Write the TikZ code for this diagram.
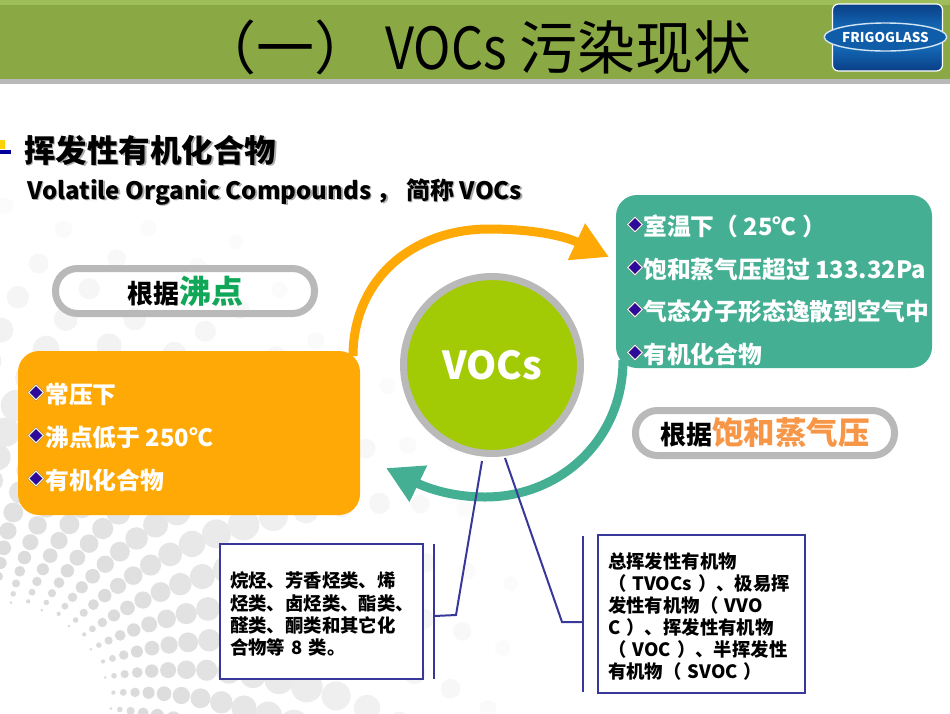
\documentclass[tikz,border=0pt]{standalone}
\usepackage{fontspec}
\setmainfont{Noto Sans CJK SC}
\usetikzlibrary{arrows.meta,shapes.geometric}
\definecolor{bandgreen}{HTML}{8AA945}
\definecolor{bandlight}{HTML}{9DBE5A}
\definecolor{ringgray}{HTML}{B9B9B9}
\definecolor{boxorange}{HTML}{FFA907}
\definecolor{boxteal}{HTML}{45AF94}
\definecolor{limegreen}{HTML}{A3CB05}
\definecolor{linknavy}{HTML}{38389A}
\definecolor{logoblue}{HTML}{0F5CA8}
\definecolor{logodark}{HTML}{0A3F86}
\definecolor{logolight}{HTML}{1878C8}
\definecolor{markgreen}{HTML}{10A858}
\definecolor{markorange}{HTML}{F79646}
\definecolor{markviolet}{HTML}{2E0A9C}
\newcommand{\shadowtext}[1]{\rlap{\kern1.5pt\raisebox{-1.5pt}{\textcolor{black!32}{#1}}}#1}
\begin{document}
\begin{tikzpicture}[
  x=1pt, y=-1pt,
  infobox/.style={rectangle, rounded corners=21pt, draw=none, minimum width=#1, inner sep=0pt},
  pillbox/.style={rectangle, rounded corners=22pt, draw=ringgray, line width=7pt,
                  minimum width=259pt, minimum height=45pt, inner sep=0pt},
  notebox/.style={rectangle, draw=linknavy, line width=2.8pt, fill=white, align=left,
                  font=\fontsize{18.4}{22.1}\selectfont\bfseries, inner sep=0pt},
  itemtext/.style={anchor=base west, inner sep=0pt, text=white,
                   font=\fontsize{23.8}{28}\selectfont\bfseries},
  itemmark/.style={diamond, draw=black!50, double=white, double distance=0.7pt, fill=markviolet,
                   line width=0.4pt, minimum width=15pt, minimum height=15pt, inner sep=0pt},
  swing/.style={line width=9pt, -{Triangle[length=36pt,width=38pt]}},
  link/.style={draw=linknavy, line width=2pt}
]
\useasboundingbox (0,0) rectangle (950,713);

% dotted backdrop
\begin{scope}
\clip (0,0) rectangle (950,713);
\foreach \rowidx in {-4,...,11} {
  \foreach \stepk in {0,...,17} {
    \pgfmathsetmacro{\kval}{\stepk+0.5*mod(\rowidx+4,2)}
    \pgfmathsetmacro{\distv}{111+8*\kval+0.9*\kval*\kval}
    \pgfmathsetmacro{\angv}{5.7+8.2*\rowidx+0.07*(\distv-111)}
    \pgfmathsetmacro{\radv}{\kval<=11 ? 1.5+1.3*\kval : 15.8-1.3*(\kval-11)}
    \pgfmathsetmacro{\toneval}{\kval<=4 ? 14 : max(1.5,14-0.95*(\kval-4))}
    \fill[black!\toneval] ({\distv*sin(\angv)},{713-\distv*cos(\angv)}) circle ({\radv});
  }
}
\end{scope}

% header band
\fill[bandgreen] (0,0) rectangle (950,79);
\fill[bandlight] (0,0) rectangle (950,5);
\fill[ringgray] (0,79) rectangle (950,84);
\node[inner sep=0pt, font=\fontsize{58}{60}\selectfont] (title) at (475,47)
  {（一） \scalebox{0.87}[1]{VOCs} 污染现状};

% logo
\node[rectangle, rounded corners=6pt, draw=white, line width=1.2pt,
      top color=logodark, bottom color=logodark, middle color=logolight,
      minimum width=110pt, minimum height=67pt] (logo) at (887.5,37.5) {};
\node[ellipse, draw=white!80!logolight, line width=1.4pt, fill=logoblue, text=white, inner sep=0pt,
      minimum width=108pt, minimum height=28pt, font=\fontsize{13.5}{14}\selectfont\bfseries] (logotext) at (885.5,37) {FRIGOGLASS};

% heading
\fill[yellow!70!orange] (0,140) rectangle (5,149);
\fill[blue!60!black] (0,149.5) rectangle (11,153.5);
\node[anchor=base west, inner sep=0pt, font=\fontsize{31.5}{34}\selectfont\bfseries] (head) at (24,162) {\shadowtext{挥发性有机化合物}};
\node[anchor=base west, inner sep=0pt, font=\fontsize{24}{28}\selectfont\bfseries] (subhead) at (27,199) {\shadowtext{Volatile Organic Compounds ， 简称 VOCs}};

% swinging arrows
\coordinate (orangefrom) at (353,356);
\coordinate (orangetop) at (489,229);
\coordinate (orangetip) at (609,257);
\coordinate (tealfrom) at (623,360);
\coordinate (tealbottom) at (485,497);
\coordinate (tealtip) at (386,468);
\draw[swing, draw=boxorange] (orangefrom) .. controls (353,280) and (412,229) .. (orangetop)
  .. controls (525,229) and (560,234) .. (orangetip);
\draw[swing, draw=boxteal] (tealfrom) .. controls (623,440) and (560,497) .. (tealbottom)
  .. controls (450,497) and (425,487) .. (tealtip);

% boxes
\node[infobox=342pt, fill=boxorange, minimum height=164pt] (boiling) at (189,433) {};
\node[infobox=316pt, fill=boxteal, minimum height=173pt] (vapour) at (774,281.5) {};
\foreach \ypos/\txt in {403/常压下,446/沸点低于 250℃,489/有机化合物} {
  \node[itemtext] at (45,\ypos) {\txt};
  \node[itemmark] at (36,\ypos-10.5) {};
}
\foreach \ypos/\txt in {235/室温下（ 25℃ ）,278/饱和蒸气压超过 133.32Pa,320/气态分子形态逸散到空气中,363/有机化合物} {
  \node[itemtext] at (643,\ypos) {\txt};
  \node[itemmark] at (635,\ypos-10.5) {};
}

\node[pillbox] (pillboil) at (185,291)
  {\raisebox{-2pt}{\fontsize{26}{30}\selectfont\bfseries 根据\fontsize{32}{34}\selectfont\textcolor{markgreen}{沸点}}};
\node[pillbox] (pillvap) at (765,433)
  {\raisebox{-2pt}{\fontsize{26}{30}\selectfont\bfseries 根据\fontsize{31.5}{34}\selectfont\textcolor{markorange}{饱和蒸气压}}};

% centre
\node[circle, draw=ringgray, line width=7pt, fill=limegreen, minimum size=177pt, inner sep=0pt,
      text=white, font=\fontsize{38.5}{42}\selectfont\bfseries] (voc) at (492,365) {\raisebox{-2pt}{VOCs}};

% notes
\node[notebox, minimum width=203pt, minimum height=135pt, text width=183pt] (alkane) at (321.5,611.5)
  {\rule{0pt}{21pt}烷烃、芳香烃类、烯\\烃类、卤烃类、酯类、\\醛类、酮类和其它化\\合物等 8 类。};
\node[notebox, minimum width=207pt, minimum height=158pt, text width=187pt] (total) at (701.5,614)
  {\rule{0pt}{21pt}总挥发性有机物\\（ TVOCs ）、极易挥\\发性有机物（ VVO\\C ）、挥发性有机物\\（ VOC ）、半挥发性\\有机物（ SVOC ）};

\coordinate (leftbartop) at (434,544);
\coordinate (leftbarend) at (434,679);
\coordinate (leftjoin) at (434,616);
\coordinate (leftbend) at (456,615);
\coordinate (leftfree) at (482,461);
\coordinate (rightbartop) at (583,536);
\coordinate (rightbarend) at (583,692);
\coordinate (rightjoin) at (583,622);
\coordinate (rightbend) at (562,622);
\coordinate (rightfree) at (505,458);
\draw[link] (leftbartop) -- (leftbarend);
\draw[link] (leftjoin) -- (leftbend) -- (leftfree);
\draw[link] (rightbartop) -- (rightbarend);
\draw[link] (rightjoin) -- (rightbend) -- (rightfree);
\end{tikzpicture}
\end{document}
